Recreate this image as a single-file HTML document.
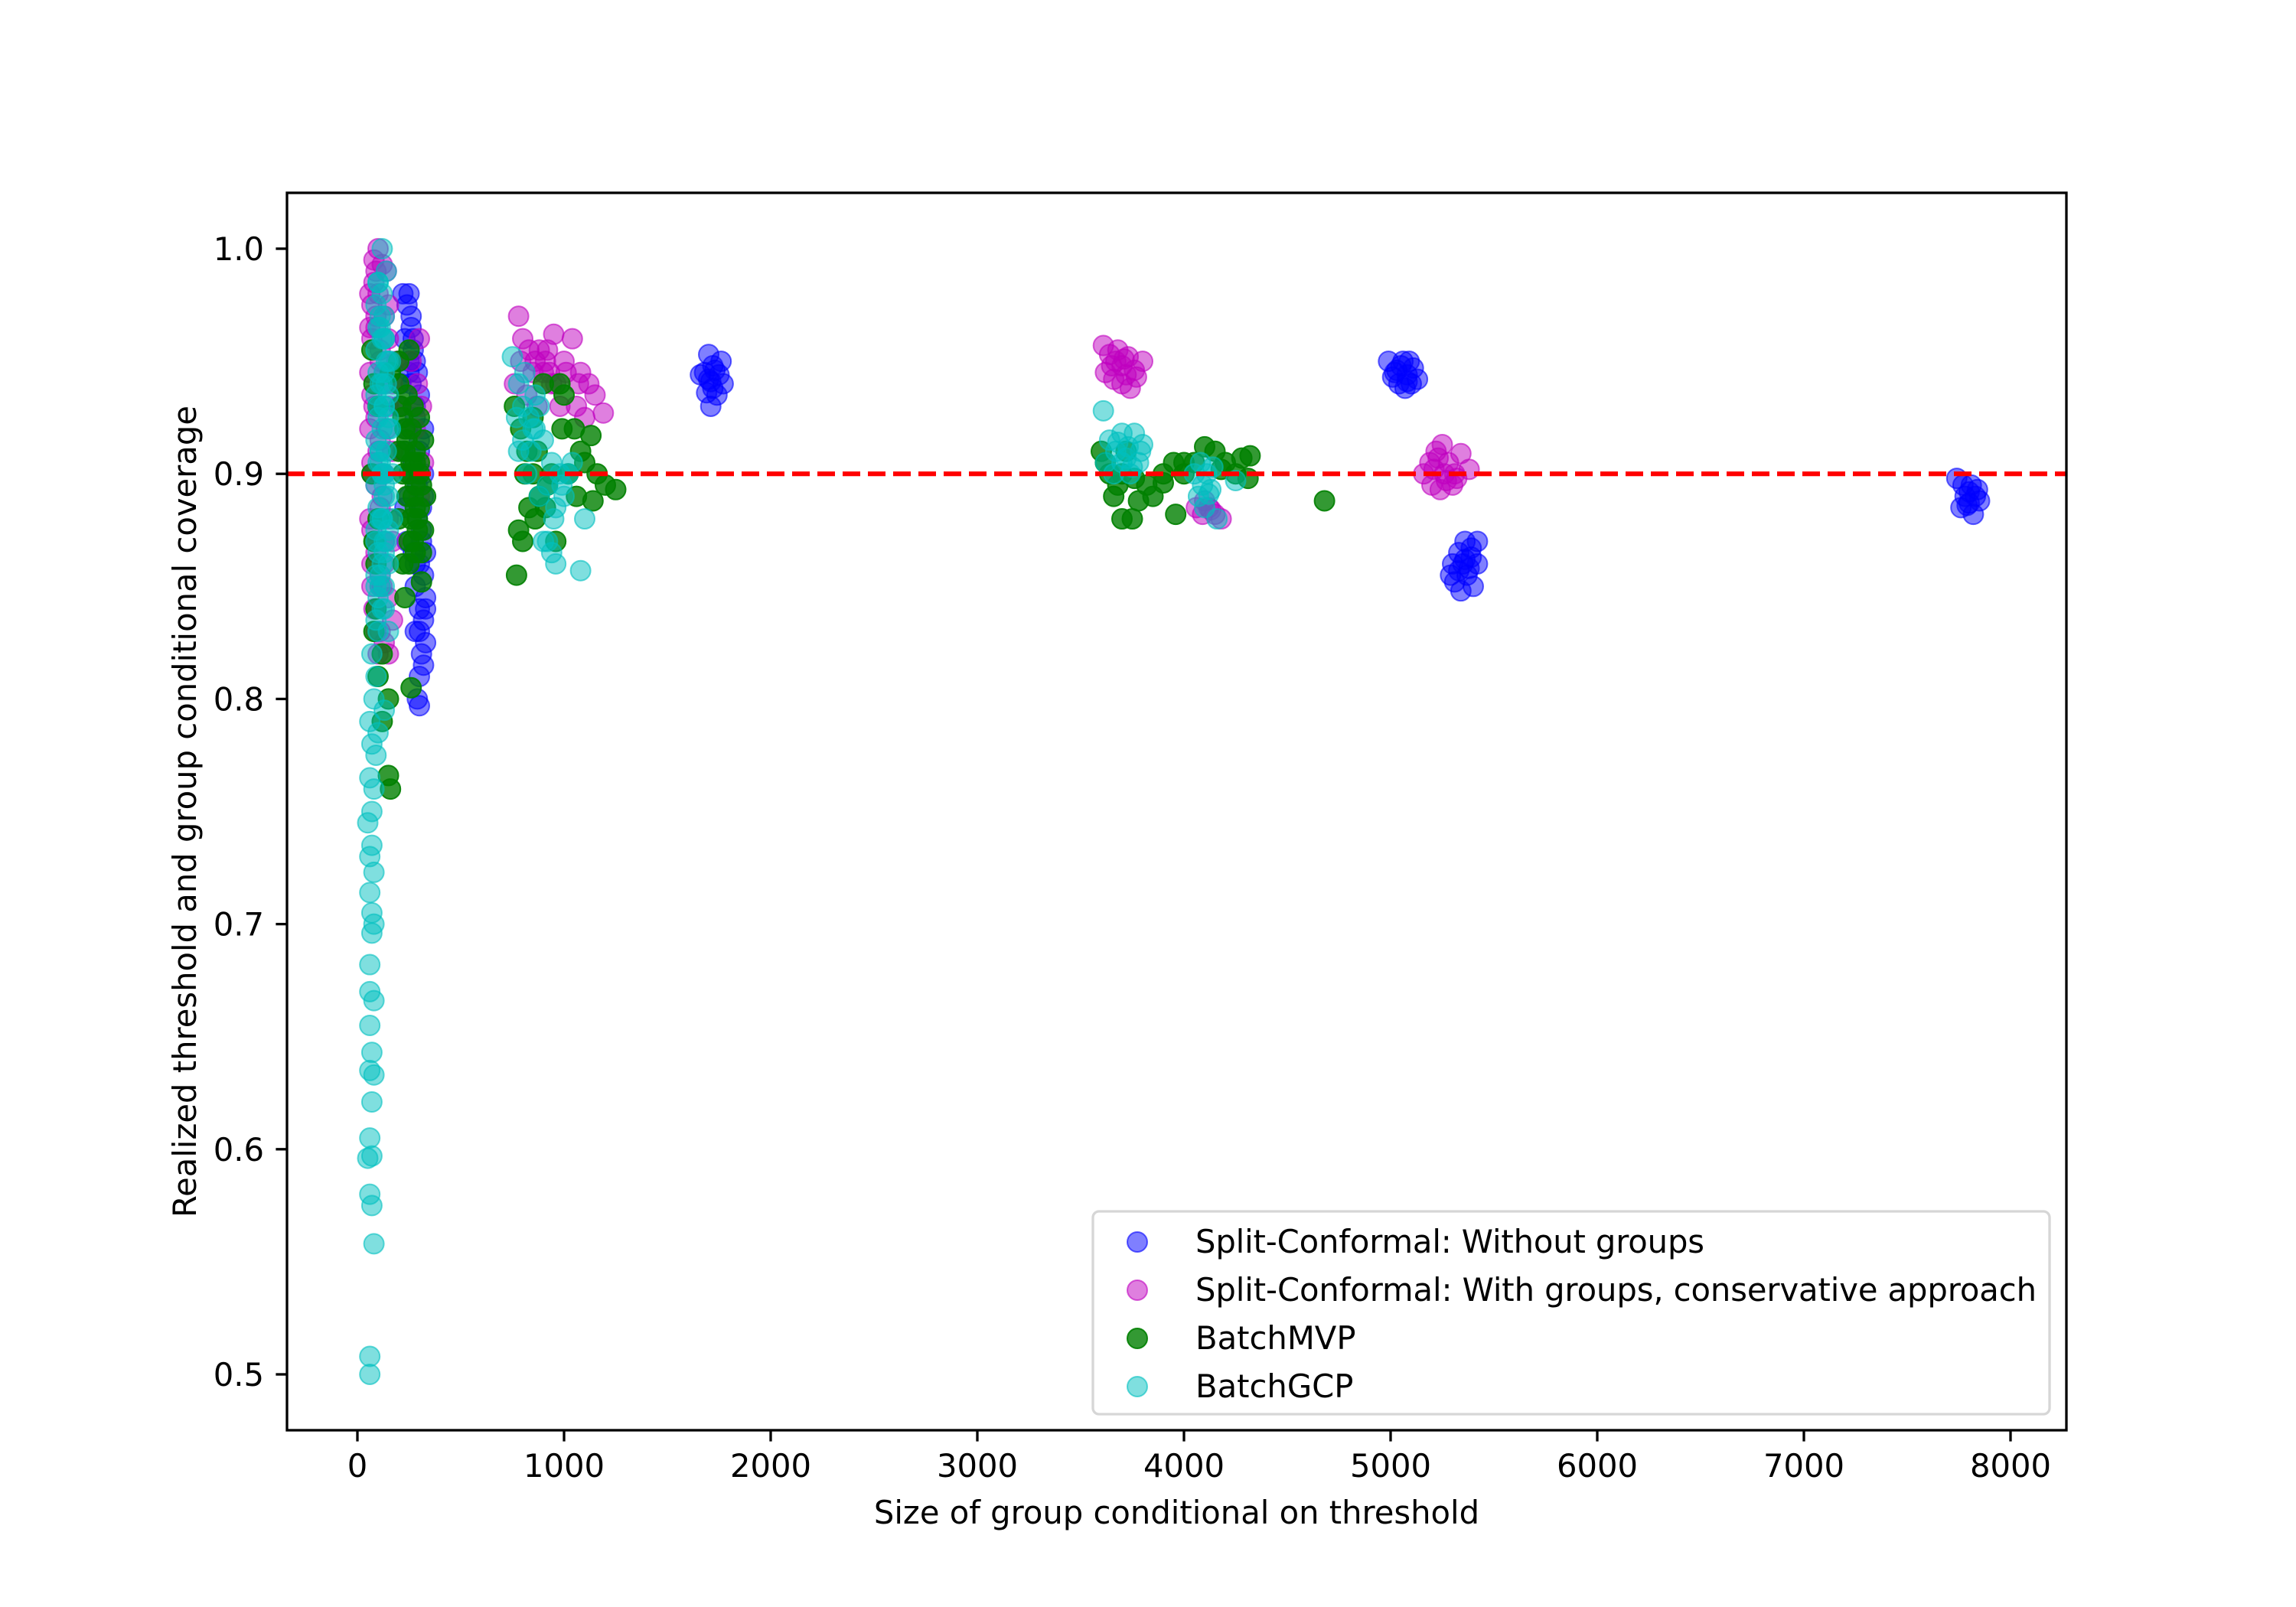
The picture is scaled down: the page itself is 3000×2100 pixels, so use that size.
<!DOCTYPE html>
<html><head><meta charset="utf-8"><style>
html,body{margin:0;padding:0;background:#fff}
svg{display:block}
text{font-family:"DejaVu Sans","Liberation Sans",sans-serif;fill:#000}
</style></head><body>
<svg id="chart" width="3000" height="2100" viewBox="0 0 3000 2100" xmlns="http://www.w3.org/2000/svg">
<rect width="3000" height="2100" fill="#fff"/>
<g id="marks"></g>
<g id="axes"></g>
</svg>
<script>
const xTicks=[0,1000,2000,3000,4000,5000,6000,7000,8000];
const yTicks=[0.5,0.6,0.7,0.8,0.9,1.0];
const yTickLabels=["0.5","0.6","0.7","0.8","0.9","1.0"];
const targetCoverage=0.9;
const seriesNames=["Split-Conformal: Without groups","Split-Conformal: With groups, conservative approach","BatchMVP","BatchGCP"];

const blueX=[220,240,260,230,270,250,210,280,240,300,260,320,230,290,310,270,300,320,280,330,300,320,280,330,310,300,290,300,250,200,220,250,240,
260,280,300,320,270,290,310,330,260,280,300,320,250,270,290,310,330,300,320,280,
1660,1700,1720,1750,1770,1690,1710,1740,1700,1760,1720,1680,1730,1710,
4990,5020,5050,5080,5110,5130,5040,5070,5100,5010,5060,5090,5030,5080,
5300,5330,5360,5390,5420,5310,5340,5370,5400,5420,5350,5380,5290,5360,5330,5390,
7740,7770,7800,7830,7850,7760,7790,7820,7810,7840,7780,7800];
const blueY=[0.98,0.975,0.97,0.96,0.955,0.945,0.94,0.93,0.92,0.91,0.90,0.89,0.885,0.88,0.87,0.865,0.86,0.855,0.85,0.845,0.84,0.835,0.83,0.825,0.82,0.81,0.80,0.797,0.95,0.93,0.91,0.89,0.87,
0.965,0.95,0.935,0.92,0.905,0.895,0.875,0.865,0.94,0.925,0.915,0.9,0.98,0.96,0.945,0.885,0.84,0.83,0.815,0.86,
0.944,0.953,0.948,0.944,0.94,0.936,0.93,0.935,0.942,0.95,0.938,0.945,0.946,0.941,
0.95,0.945,0.948,0.944,0.947,0.942,0.94,0.938,0.94,0.943,0.95,0.95,0.946,0.941,
0.86,0.865,0.87,0.867,0.87,0.852,0.848,0.855,0.85,0.86,0.86,0.858,0.855,0.862,0.857,0.863,
0.898,0.895,0.892,0.89,0.888,0.885,0.886,0.882,0.895,0.893,0.89,0.887];

const magX=[100,120,80,60,140,90,70,110,60,130,80,60,100,70,120,60,90,70,110,80,90,100,300,290,310,280,320,300,260,60,90,150,130,110,140,120,
70,90,110,130,150,170,70,90,110,130,150,170,70,90,110,130,150,170,70,90,110,130,150,170,70,90,110,130,150,190,210,80,100,
780,800,830,860,900,920,950,1000,1040,1080,1120,1150,1190,760,820,870,940,980,1060,1100,790,850,910,960,1010,1070,880,930,
3610,3640,3670,3700,3730,3760,3800,3620,3660,3700,3740,3680,3720,3650,3770,3710,
4060,4090,4120,4150,4180,4100,4130,
5160,5190,5220,5250,5280,5310,5340,5380,5200,5240,5270,5300,5210,5230,5260,5320];
const magY=[1.0,0.993,0.985,0.98,0.99,0.97,0.96,0.955,0.945,0.94,0.93,0.92,0.91,0.9,0.89,0.88,0.87,0.86,0.85,0.84,0.83,0.82,0.96,0.94,0.93,0.92,0.905,0.89,0.95,0.965,0.99,0.975,0.87,0.9,0.92,0.85,
0.975,0.965,0.95,0.97,0.96,0.94,0.935,0.925,0.915,0.945,0.93,0.91,0.905,0.895,0.885,0.9,0.88,0.87,0.875,0.865,0.855,0.86,0.845,0.835,0.85,0.84,0.83,0.825,0.82,0.95,0.93,0.995,0.98,
0.97,0.96,0.955,0.95,0.945,0.955,0.962,0.95,0.96,0.945,0.94,0.935,0.927,0.94,0.935,0.93,0.94,0.93,0.93,0.925,0.95,0.945,0.95,0.94,0.945,0.94,0.955,0.945,
0.957,0.953,0.95,0.948,0.952,0.946,0.95,0.945,0.942,0.94,0.938,0.955,0.944,0.948,0.943,0.951,
0.885,0.882,0.885,0.882,0.88,0.888,0.884,
0.9,0.905,0.91,0.913,0.905,0.9,0.909,0.902,0.895,0.893,0.897,0.895,0.902,0.907,0.9,0.898];

const greenX=[70,80,100,160,200,250,270,300,320,280,310,330,290,270,250,310,230,90,80,120,100,260,150,120,150,160,70,230,260,300,200,240,280,
200,220,240,260,280,300,320,210,230,250,270,290,310,200,220,240,260,280,300,220,250,280,80,90,100,
760,790,820,850,880,910,940,980,1000,1050,1080,1100,1130,1160,1200,1250,780,800,770,830,900,1020,1140,870,960,810,860,920,990,1060,850,
3600,3640,3680,3700,3750,3780,3850,3900,3950,4000,3960,4050,4100,4150,4200,4250,4280,4320,4310,3820,3720,3660,3620,3700,3760,3900,4000,4180,4680];
const greenY=[0.955,0.94,0.93,0.945,0.95,0.955,0.93,0.925,0.915,0.905,0.895,0.89,0.88,0.87,0.86,0.852,0.845,0.84,0.83,0.82,0.81,0.805,0.8,0.79,0.766,0.76,0.9,0.91,0.92,0.9,0.88,0.935,0.885,
0.94,0.925,0.915,0.905,0.895,0.885,0.875,0.93,0.92,0.9,0.89,0.875,0.865,0.91,0.9,0.89,0.88,0.865,0.905,0.86,0.87,0.91,0.87,0.86,0.88,
0.93,0.92,0.91,0.9,0.89,0.885,0.9,0.94,0.935,0.92,0.91,0.905,0.917,0.9,0.895,0.893,0.875,0.87,0.855,0.885,0.94,0.9,0.888,0.91,0.87,0.9,0.88,0.895,0.92,0.89,0.925,
0.91,0.9,0.895,0.88,0.88,0.888,0.89,0.9,0.905,0.9,0.882,0.905,0.912,0.91,0.905,0.9,0.907,0.908,0.898,0.895,0.91,0.89,0.905,0.9,0.898,0.896,0.905,0.902,0.888];

const cyanX=[60,60,80,70,60,70,50,60,70,80,60,70,60,80,60,60,70,80,70,60,80,60,70,50,70,80,60,90,70,100,60,130,80,90,70,100,
90,120,100,130,90,120,100,140,90,120,100,130,90,120,100,140,90,120,100,130,90,120,100,140,90,120,100,130,90,120,100,140,90,120,100,130,90,120,110,140,100,120,
110,130,150,110,130,150,110,130,150,110,130,150,110,130,150,110,130,150,110,130,150,110,130,150,170,160,170,160,
750,780,800,830,860,900,940,980,1000,950,920,960,1080,1100,860,780,820,880,1020,900,940,770,800,840,880,920,960,990,1040,810,850,
3610,3640,3670,3700,3730,3760,3790,3620,3660,3700,3740,3780,3800,3680,3720,3750,
4050,4080,4110,4140,4070,4100,4130,4160,4090,4250,4120];
const cyanY=[0.5,0.508,0.558,0.575,0.58,0.597,0.596,0.605,0.621,0.633,0.635,0.643,0.655,0.666,0.67,0.682,0.696,0.7,0.705,0.714,0.723,0.73,0.735,0.745,0.75,0.76,0.765,0.775,0.78,0.785,0.79,0.795,0.8,0.81,0.82,0.83,
0.835,0.84,0.845,0.85,0.855,0.86,0.865,0.87,0.875,0.88,0.885,0.89,0.895,0.9,0.905,0.91,0.915,0.92,0.925,0.93,0.935,0.94,0.945,0.95,0.955,0.96,0.965,0.97,0.975,0.98,0.985,0.99,0.87,0.9,0.93,0.96,0.85,0.88,0.91,0.94,0.985,1.0,
0.97,0.96,0.95,0.94,0.93,0.92,0.91,0.9,0.89,0.88,0.87,0.86,0.85,0.84,0.83,0.965,0.945,0.925,0.905,0.895,0.875,0.855,0.865,0.935,0.9,0.95,0.88,0.92,
0.952,0.94,0.93,0.925,0.92,0.915,0.905,0.9,0.89,0.88,0.87,0.86,0.857,0.88,0.935,0.91,0.9,0.89,0.9,0.87,0.865,0.925,0.915,0.91,0.93,0.895,0.885,0.895,0.905,0.945,0.92,
0.928,0.915,0.91,0.918,0.912,0.918,0.91,0.905,0.9,0.905,0.9,0.905,0.913,0.914,0.907,0.903,
0.9,0.905,0.9,0.903,0.89,0.885,0.893,0.88,0.895,0.897,0.891];

const L=375,R=2700,T=252,B=1869;
function X(v){return 467+(v-0)*(2627-467)/8000;}
function Y(v){return 325+(1-v)*(1796-325)/0.5;}
const NS="http://www.w3.org/2000/svg";
function mk(tag,attrs,parent){const e=document.createElementNS(NS,tag);for(const k in attrs)e.setAttribute(k,attrs[k]);parent.appendChild(e);return e;}
const marks=document.getElementById('marks');
const axes=document.getElementById('axes');

function drawSeries(xs,ys,color,alpha,name){
  const g=mk('g',{},marks);
  
  
  for(let i=0;i<xs.length;i++){
    const c=mk('circle',{cx:X(xs[i]),cy:Y(ys[i]),r:13,fill:color,stroke:color,'stroke-width':2,'fill-opacity':alpha,'stroke-opacity':Math.min(1,alpha+0.1)},g);
    
    
  }
}
drawSeries(blueX,blueY,'#0000ff',0.5,'series-split-without-groups');
drawSeries(magX,magY,'#bf00bf',0.5,'series-split-with-groups');
drawSeries(greenX,greenY,'#008000',0.8,'series-batchmvp');
drawSeries(cyanX,cyanY,'#00bfbf',0.5,'series-batchgcp');

const tl=mk('line',{x1:L,x2:R,y1:Y(targetCoverage),y2:Y(targetCoverage),stroke:'#ff0000','stroke-width':6.2,'stroke-dasharray':'23,10'},axes);



const fr=mk('rect',{x:L,y:T,width:R-L,height:B-T,fill:'none',stroke:'#000','stroke-width':3.3},axes);



xTicks.forEach(v=>{
  const x=X(v);
  const t=mk('line',{x1:x,x2:x,y1:B,y2:B+14.6,stroke:'#000','stroke-width':3.3},axes);
  
  
  const lb=mk('text',{x:x,y:1930,'font-size':41.7,'text-anchor':'middle'},axes);
  lb.textContent=String(v);
  
  
});
yTicks.forEach((v,i)=>{
  const y=Y(v);
  const t=mk('line',{x1:L-14.6,x2:L,y1:y,y2:y,stroke:'#000','stroke-width':3.3},axes);
  
  
  const lb=mk('text',{x:345,y:y+15,'font-size':41.7,'text-anchor':'end'},axes);
  lb.textContent=yTickLabels[i];
  
  
});
const xl=mk('text',{x:(L+R)/2,y:1991,'font-size':41.7,'text-anchor':'middle'},axes);
xl.textContent='Size of group conditional on threshold';


const yl=mk('text',{x:0,y:0,'font-size':41.7,'text-anchor':'middle',transform:'translate(256,'+((T+B)/2)+') rotate(-90)'},axes);
yl.textContent='Realized threshold and group conditional coverage';



const lg=mk('g',{},axes);


const lbx=mk('rect',{x:1428,y:1583,width:1250,height:265,rx:8,fill:'#fff','fill-opacity':0.8,stroke:'#d6d6d6','stroke-width':3.3},lg);


const lcol=['#0000ff','#bf00bf','#008000','#00bfbf'];
const lal=[0.5,0.5,0.8,0.5];
const lw=[665,1099,0,0];
seriesNames.forEach((n,i)=>{
  const y=1623+i*63;
  const c=mk('circle',{cx:1486,cy:y,r:13,fill:lcol[i],stroke:lcol[i],'stroke-width':2,'fill-opacity':lal[i],'stroke-opacity':Math.min(1,lal[i]+0.1)},lg);
  
  
  const a={x:1562,y:y+14,'font-size':41.7};
  if(lw[i])a.textLength=lw[i];
  const t=mk('text',a,lg);
  t.textContent=n;
  
  
});
</script>
</body></html>
